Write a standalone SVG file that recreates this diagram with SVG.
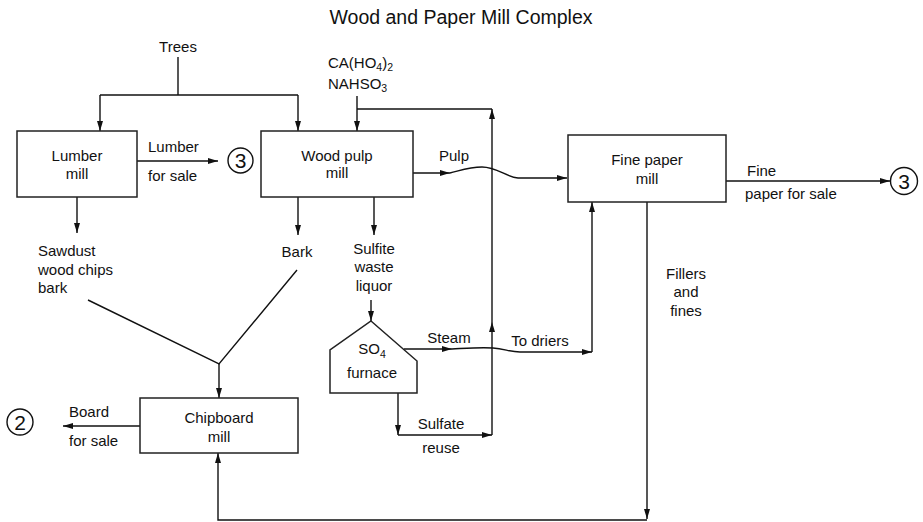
<svg xmlns="http://www.w3.org/2000/svg" width="923" height="522" viewBox="0 0 923 522">
<style>
text{font-family:"Liberation Sans",Arial,sans-serif;font-size:15px;fill:#111}
.c{text-anchor:middle}
.t{font-size:19.5px}
.n{font-size:21px}
.sub{font-size:10.5px}
.box{fill:#fff;stroke:#222;stroke-width:1.5}
.ln{fill:none;stroke:#111;stroke-width:1.4}
.ar{marker-end:url(#ah)}
</style>
<defs>
<marker id="ah" viewBox="0 0 10 6" refX="10" refY="3" markerWidth="10" markerHeight="6" orient="auto" markerUnits="userSpaceOnUse"><path d="M0,0 L10,3 L0,6 z" fill="#111"/></marker>
</defs>
<rect width="923" height="522" fill="#fff"/>
<text class="c t" x="461" y="24">Wood and Paper Mill Complex</text>

<g id="connectors">
<path class="ln" d="M178,57 V95"/>
<path class="ln" d="M100,95 H298"/>
<path class="ln ar" d="M100,95 V131"/>
<path class="ln ar" d="M298,95 V131"/>
<path class="ln ar" d="M137,161 H218"/>
<path class="ln ar" d="M357,96 V131"/>
<path class="ln" d="M357,109 H492"/>
<path class="ln ar" d="M413,173 H450"/>
<path class="ln ar" d="M450,173 C462,170 470,167 482,167 C497,167 506,177 518,178 L567,178"/>
<path class="ln ar" d="M726,181 H890"/>
<path class="ln ar" d="M77,197 V233"/>
<path class="ln ar" d="M298,197 V235"/>
<path class="ln ar" d="M374,197 V235"/>
<path class="ln" d="M297,270 L219,364 L88,300"/>
<path class="ln ar" d="M219,364 V398"/>
<path class="ln ar" d="M371,300 V321"/>
<path class="ln ar" d="M404,349 H452"/>
<path class="ln ar" d="M452,349 C470,348 482,347 493,348 C505,349 510,352 520,352 L592,352"/>
<path class="ln ar" d="M592,352 V202"/>
<path class="ln ar" d="M398,393 V435"/>
<path class="ln ar" d="M398,435 H492"/>
<path class="ln ar" d="M492,435 V322"/>
<path class="ln ar" d="M492,322 V109"/>
<path class="ln ar" d="M647,202 V519"/>
<path class="ln ar" d="M647,520 H218 V453"/>
<path class="ln ar" d="M140,426 H63"/>
</g>

<g id="trees"><text class="c" x="178" y="52">Trees</text></g>
<g id="chemicals">
<text x="328" y="68">CA(HO<tspan class="sub" dy="3">4</tspan><tspan dy="-3">)</tspan><tspan class="sub" dy="3">2</tspan></text>
<text x="328" y="89">NAHSO<tspan class="sub" dy="3">3</tspan></text>
</g>

<g id="lumber-mill">
<rect class="box" x="17" y="131" width="120" height="66"/>
<text class="c" x="77" y="161">Lumber</text>
<text class="c" x="77" y="179">mill</text>
</g>
<g id="lumber-label">
<text x="148" y="152">Lumber</text>
<text x="148" y="181">for sale</text>
</g>
<g id="out-3a">
<circle cx="240.5" cy="160.5" r="12.5" fill="#fff" stroke="#111" stroke-width="1.4"/>
<text class="c n" x="240.5" y="168">3</text>
</g>

<g id="wood-pulp-mill">
<rect class="box" x="261" y="131" width="152" height="66"/>
<text class="c" x="337" y="161">Wood pulp</text>
<text class="c" x="337" y="178">mill</text>
</g>
<g id="pulp-label"><text class="c" x="454" y="161">Pulp</text></g>

<g id="fine-paper-mill">
<rect class="box" x="568" y="135" width="158" height="67"/>
<text class="c" x="647" y="165">Fine paper</text>
<text class="c" x="647" y="184">mill</text>
</g>
<g id="fine-label">
<text x="747" y="176">Fine</text>
<text x="745" y="199">paper for sale</text>
</g>
<g id="out-3b">
<circle cx="904" cy="181" r="13.5" fill="#fff" stroke="#111" stroke-width="1.4"/>
<text class="c n" x="904" y="189">3</text>
</g>

<g id="sawdust">
<text x="38" y="256">Sawdust</text>
<text x="38" y="275">wood chips</text>
<text x="38" y="293">bark</text>
</g>
<g id="bark"><text class="c" x="297" y="257">Bark</text></g>
<g id="sulfite">
<text class="c" x="374" y="254">Sulfite</text>
<text class="c" x="374" y="272">waste</text>
<text class="c" x="374" y="291">liquor</text>
</g>
<g id="fillers">
<text class="c" x="686" y="279">Fillers</text>
<text class="c" x="686" y="297">and</text>
<text class="c" x="686" y="316">fines</text>
</g>

<g id="so4-furnace">
<path class="box" d="M371,321 L417,361 V393 H330 V350 Z"/>
<text class="c" x="372" y="354">SO<tspan class="sub" dy="4">4</tspan></text>
<text class="c" x="372" y="378">furnace</text>
</g>
<g id="steam-label"><text class="c" x="449" y="343">Steam</text></g>
<g id="driers-label"><text class="c" x="540" y="346">To driers</text></g>
<g id="sulfate-label">
<text class="c" x="441" y="429">Sulfate</text>
<text class="c" x="441" y="453">reuse</text>
</g>

<g id="chipboard-mill">
<rect class="box" x="140" y="398" width="158" height="55"/>
<text class="c" x="219" y="423">Chipboard</text>
<text class="c" x="219" y="442">mill</text>
</g>
<g id="board-label">
<text x="69" y="417">Board</text>
<text x="69" y="446">for sale</text>
</g>
<g id="out-2">
<circle cx="20" cy="422" r="13" fill="#fff" stroke="#111" stroke-width="1.4"/>
<text class="c n" x="20" y="429.5">2</text>
</g>
</svg>
